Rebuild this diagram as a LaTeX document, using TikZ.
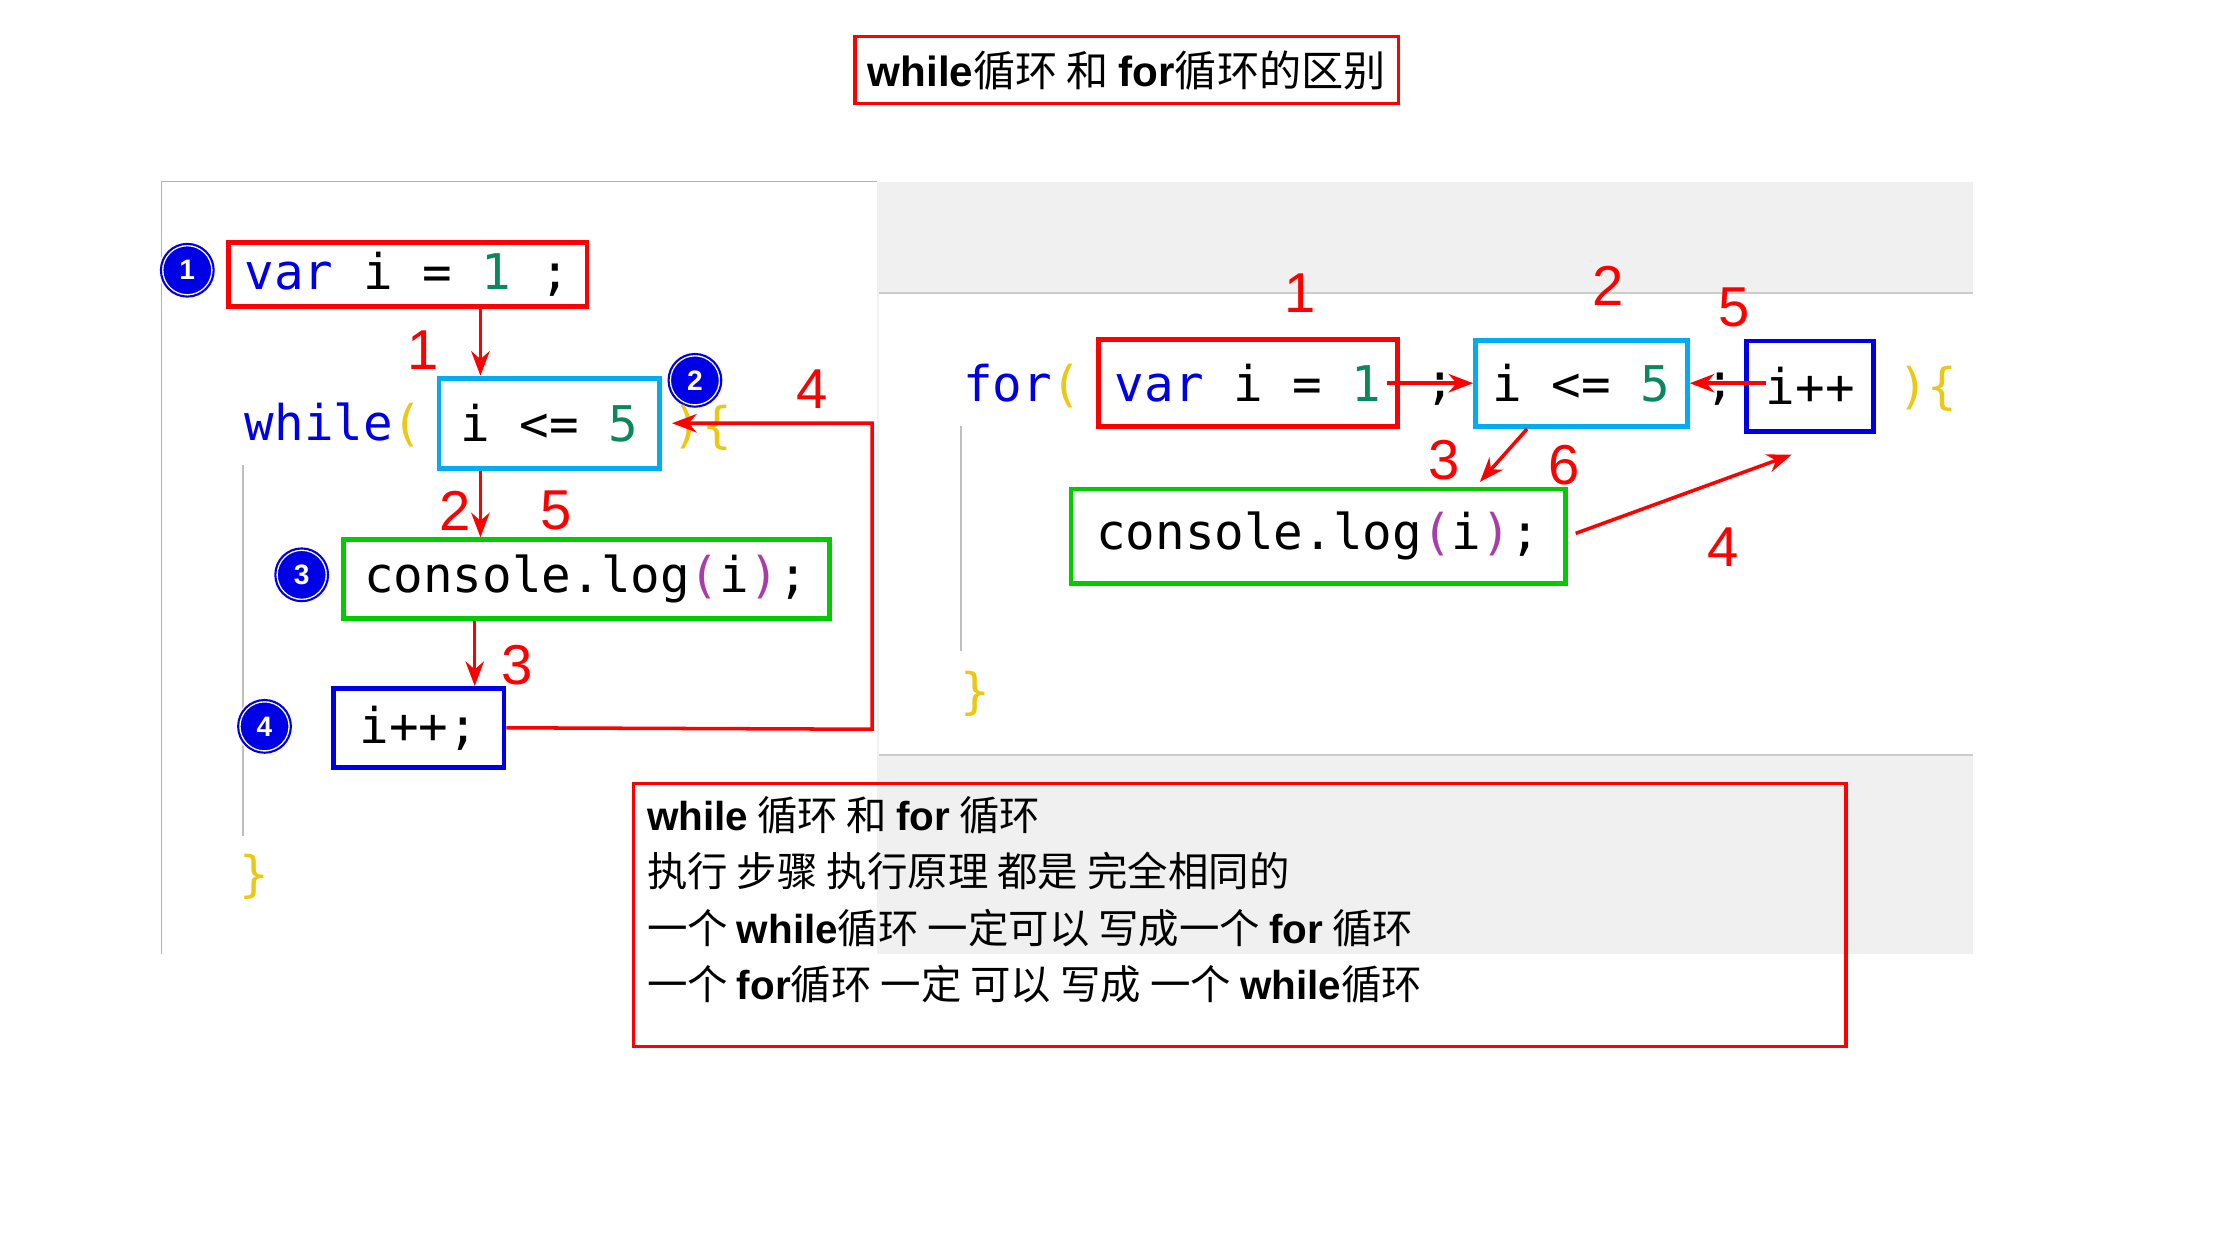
\documentclass[tikz,border=0pt]{standalone}
\usepackage{fontspec}
\setmainfont{Liberation Sans}
\setmonofont{DejaVu Sans Mono}
\newfontfamily\cjk{Noto Sans CJK SC}
\usetikzlibrary{positioning,arrows.meta}
\definecolor{kw}{RGB}{0,0,230}
\definecolor{num}{RGB}{9,136,90}
\definecolor{brc}{RGB}{235,200,20}
\definecolor{prn}{RGB}{170,60,170}
\definecolor{panel}{RGB}{240,240,240}
\tikzset{
  codebox/.style={draw=#1, line width=1.4pt, inner sep=0pt, font=\ttfamily\fontsize{14}{16}\selectfont},
  code/.style={font=\ttfamily\fontsize{14}{16}\selectfont, inner sep=0pt},
  bullet/.style={circle, fill=kw, draw=white, double=kw, text=white, inner sep=0pt, minimum size=15pt, font=\bfseries\footnotesize},
  hand/.style={text=red, font=\fontsize{16}{16}\selectfont},
  flow/.style={red, line width=1pt, -{Stealth[length=7pt]}},
  note/.style={font=\cjk\fontsize{11.5}{13}\selectfont, anchor=west, inner sep=0pt}
}
\newcommand{\lat}[1]{{\fontspec{Liberation Sans}\bfseries #1}}
\begin{document}
\begin{tikzpicture}[x=0.0143cm, y=-0.0143cm]
  \useasboundingbox (0,0) rectangle (1561,877);
  % panels
  \fill[panel] (613,127) rectangle (1380,667);
  \fill[white] (615,205) rectangle (1380,528);
  \draw[gray!60] (113,667) -- (113,127) -- (613,127);
  \draw[gray!40] (615,205) -- (1380,205);
  \draw[gray!40] (615,528) -- (1380,528);
  \draw[gray!50] (170,325) -- (170,585);
  \draw[gray!50] (672,298) -- (672,455);
  % title
  \node[draw=red, line width=1pt, minimum width=380*0.0143cm, minimum height=47*0.0143cm, inner sep=0pt, font=\cjk\fontsize{12}{14}\selectfont] (title) at (788,49) {\lat{while}循环 和 \lat{for}循环的区别};
  % while loop
  \node[bullet] (b1) at (131,189) {1};
  \node[codebox=red, minimum width=251*0.0143cm, minimum height=45*0.0143cm] (winit) at (285,192) {\textcolor{kw}{var} i = \textcolor{num}{1} ;};
  \node[code, anchor=east, text=kw] (wkw) at (296,297) {while\textcolor{brc}{(}};
  \node[codebox=cyan, minimum width=154*0.0143cm, minimum height=63*0.0143cm] (wcond) at (384,296) {i <= \textcolor{num}{5}};
  \node[bullet] (b2) at (486,266) {2};
  \node[code, text=brc, anchor=west] (wbr) at (470,299) {)\{};
  \node[bullet] (b3) at (211,402) {3};
  \node[codebox=green!80!black, minimum width=340*0.0143cm, minimum height=55*0.0143cm] (wbody) at (410,405) {console.\textcolor{black}{log}\textcolor{prn}{(}i\textcolor{prn}{)};};
  \node[bullet] (b4) at (185,508) {4};
  \node[codebox=kw, minimum width=119*0.0143cm, minimum height=55*0.0143cm] (winc) at (293,509) {i++;};
  \node[code, text=brc] (wend) at (178,613) {\}};
  \coordinate (wup) at (610,510);
  \coordinate (wtop) at (610,296);
  \draw[flow] (winit.south -| 336,0) -- (wcond.north -| 336,0);
  \draw[flow] (wcond.south -| 336,0) -- (wbody.north -| 336,0);
  \draw[flow] (wbody.south -| 332,0) -- (winc.north -| 332,0);
  \draw[flow] (winc.east) -- (wup) -- (wtop) -- (wcond.east -| 470,0);
  \node[hand] (h1) at (296,245) {1};
  \node[hand] (h2) at (318,357) {2};
  \node[hand] (h5) at (389,357) {5};
  \node[hand] (h3) at (362,465) {3};
  \node[hand] (h4) at (568,272) {4};
  % for loop
  \node[code, text=kw, anchor=west] (fkw) at (673,270) {for\textcolor{brc}{(}};
  \node[codebox=red, minimum width=209*0.0143cm, minimum height=61*0.0143cm] (finit) at (873,268) {\textcolor{kw}{var} i = \textcolor{num}{1}};
  \node[code] (fs1) at (1007,272) {;};
  \node[codebox=cyan, minimum width=148*0.0143cm, minimum height=60*0.0143cm] (fcond) at (1106,268) {i <= \textcolor{num}{5}};
  \node[code] (fs2) at (1203,272) {;};
  \node[codebox=kw, minimum width=89*0.0143cm, minimum height=63*0.0143cm] (finc) at (1266,270) {i++};
  \node[code, text=brc, anchor=west] (fbr) at (1327,272) {)\{};
  \node[codebox=green!80!black, minimum width=346*0.0143cm, minimum height=66*0.0143cm] (fbody) at (922,375) {console.\textcolor{black}{log}\textcolor{prn}{(}i\textcolor{prn}{)};};
  \node[code, text=brc] (fend) at (682,485) {\}};
  \coordinate (fa) at (970,268);
  \coordinate (fb) at (1235,268);
  \coordinate (fc) at (1068,300);
  \coordinate (fd) at (1102,373);
  \coordinate (fe) at (1253,318);
  \draw[flow] (fa) -- (fcond.west);
  \draw[flow] (fb) -- (fcond.east);
  \draw[flow] (fc) -- (1035,337);
  \draw[flow] (fd) -- (fe);
  \node[hand] (g1) at (909,205) {1};
  \node[hand] (g2) at (1125,200) {2};
  \node[hand] (g5) at (1213,215) {5};
  \node[hand] (g3) at (1010,322) {3};
  \node[hand] (g6) at (1094,325) {6};
  \node[hand] (g4) at (1205,383) {4};
  % note
  \node[draw=red, line width=1pt, minimum width=848*0.0143cm, minimum height=184*0.0143cm] (notebox) at (867,640) {};
  \node[note] (n1) at (452,570) {\lat{while} 循环 和 \lat{for} 循环};
  \node[note] (n2) at (452,609) {执行 步骤 执行原理 都是 完全相同的};
  \node[note] (n3) at (452,649) {一个 \lat{while}循环 一定可以 写成一个 \lat{for} 循环};
  \node[note] (n4) at (452,688) {一个 \lat{for}循环 一定 可以 写成 一个 \lat{while}循环};
\end{tikzpicture}
\end{document}
